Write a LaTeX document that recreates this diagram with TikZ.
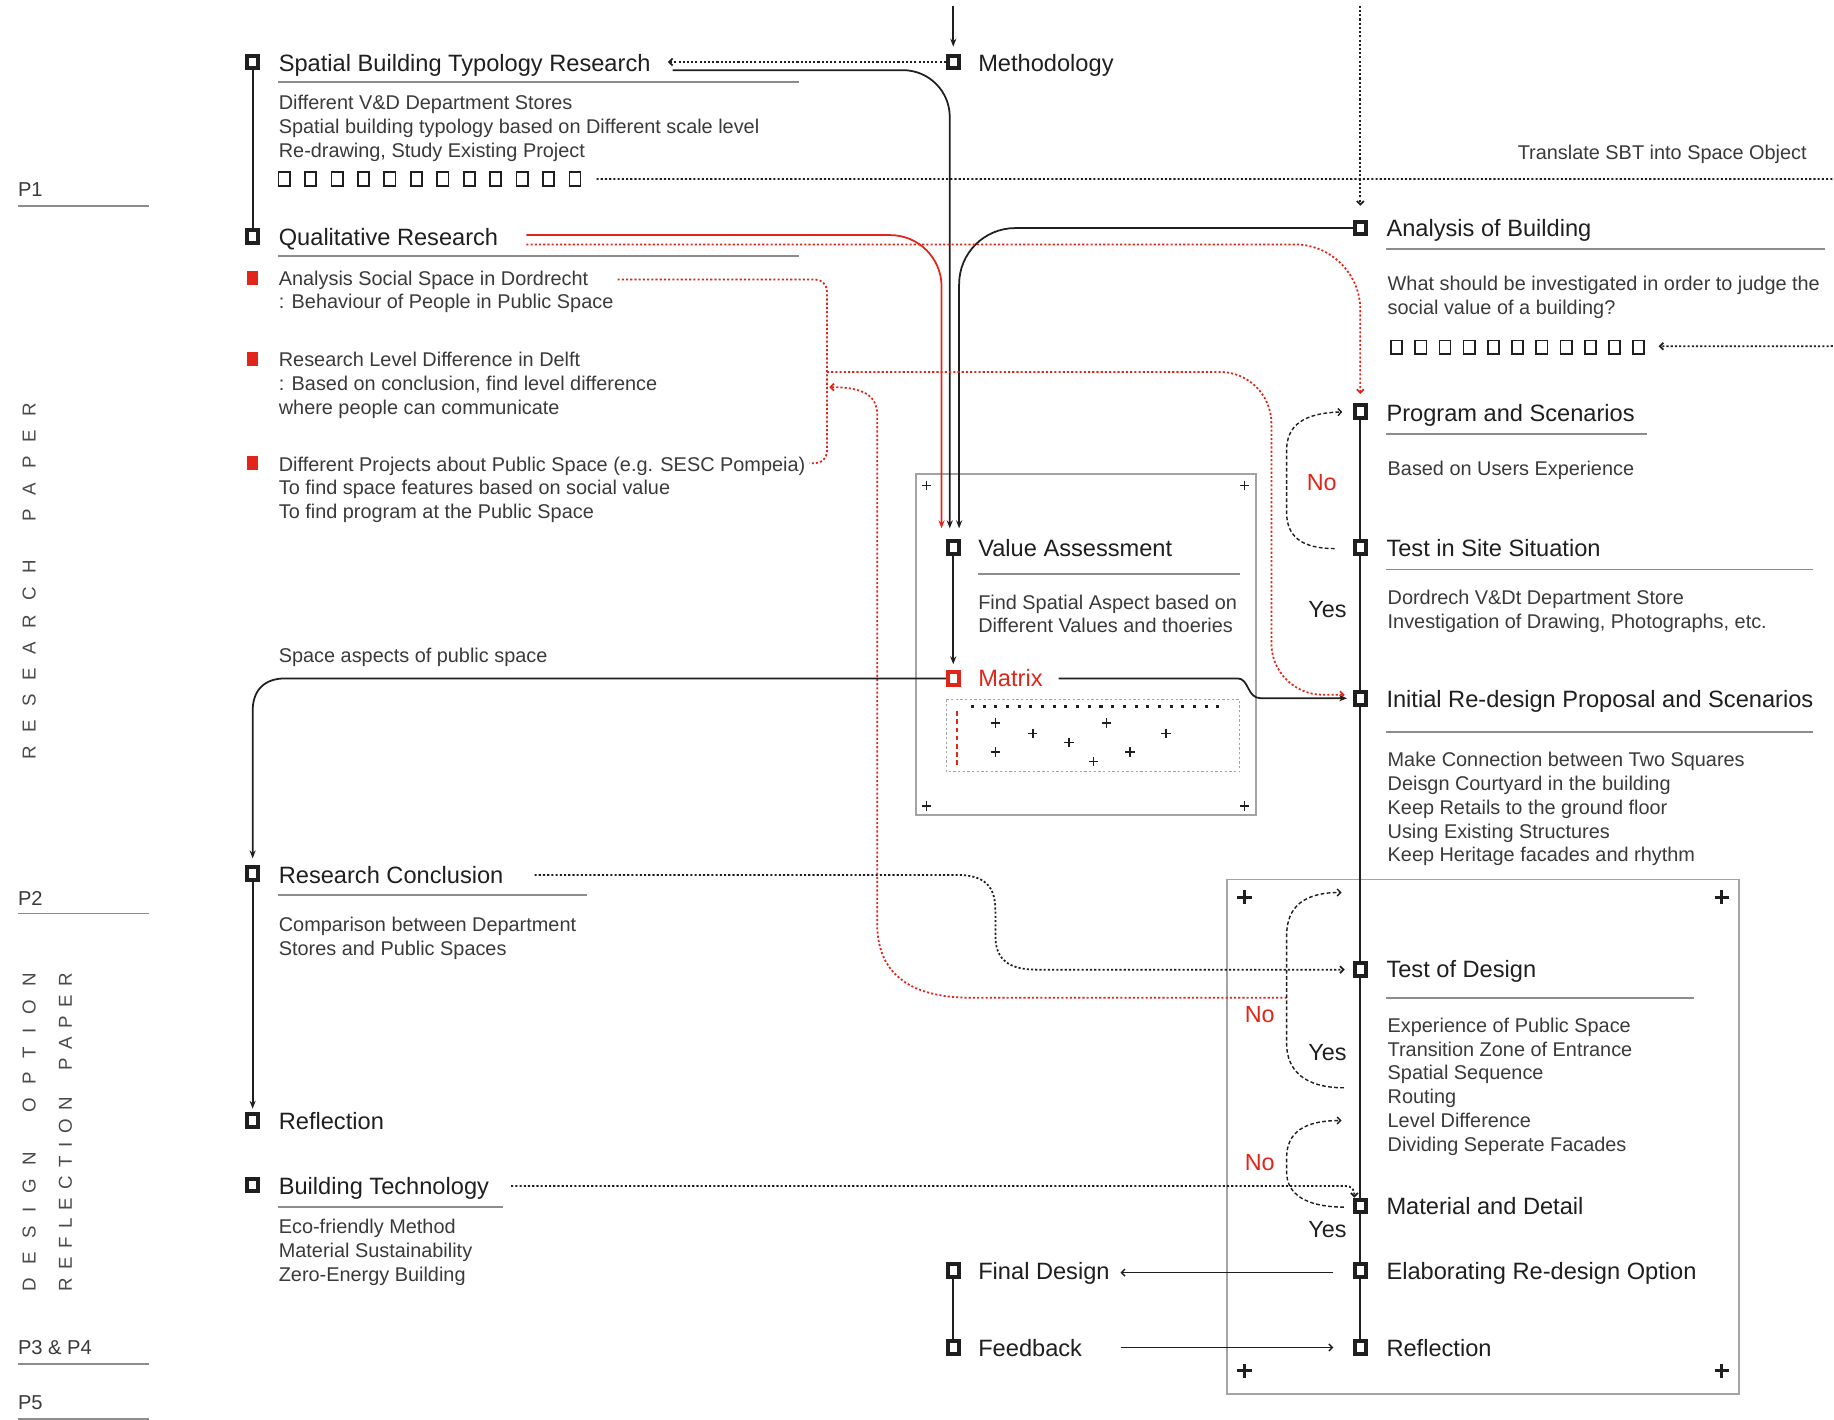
\documentclass[tikz,border=0pt]{standalone}
\usepackage{fontspec}
\setmainfont{Liberation Sans}
\usetikzlibrary{arrows.meta}
\definecolor{rd}{HTML}{E1251B}
\definecolor{tc}{HTML}{1F1F1F}
\definecolor{bc}{HTML}{3A3A3A}
\definecolor{ln}{HTML}{8C8C8C}
\definecolor{bxc}{HTML}{A3A3A3}
\definecolor{lab}{HTML}{4A4A4A}
\newcommand{\lkA}{\kern5.8pt}
\newcommand{\wkA}{\kern16.8pt}
\newcommand{\lkB}{\kern3.6pt}
\newcommand{\wkB}{\kern11.6pt}
\begin{document}
\begin{tikzpicture}[x=0.5pt,y=-0.5pt,
  mk/.style={rectangle, draw=tc, fill=white, line width=1.7pt, minimum width=4.6pt, minimum height=5.4pt, inner sep=0pt},
  mkr/.style={mk, draw=rd},
  bul/.style={rectangle, fill=rd, minimum width=5pt, minimum height=6pt, inner sep=0pt},
  sq/.style={rectangle, draw=tc, line width=0.75pt, minimum width=4.8pt, minimum height=5.8pt, inner sep=0pt},
  ttl/.style={font=\fontsize{10.1}{12}\selectfont, text=tc, anchor=base west, inner sep=0pt},
  bd/.style={font=\fontsize{8.5}{10.15}\selectfont, text=bc, anchor=north west, inner sep=0pt, align=left},
  plab/.style={font=\fontsize{8.6}{10}\selectfont, text=bc, anchor=base west, inner sep=0pt},
  vlab/.style={font=\fontsize{8}{9}\selectfont, text=lab, inner sep=0pt},
  yn/.style={font=\fontsize{10}{12}\selectfont, text=tc, inner sep=0pt},
  ul/.style={draw=ln, line width=0.7pt},
  bxs/.style={draw=bxc, line width=0.75pt},
  sol/.style={draw=tc, line width=0.75pt},
  rsol/.style={draw=rd, line width=0.75pt},
  dotl/.style={draw=tc, line width=0.75pt, dash pattern=on 0.9pt off 0.9pt},
  rdot/.style={draw=rd, line width=0.75pt, dash pattern=on 0.9pt off 0.9pt},
  dsh/.style={draw=tc, line width=0.6pt, dash pattern=on 1.6pt off 1pt},
  arr/.style={-{Stealth[length=3.4pt,width=2.6pt]}},
  barb/.style={-{Straight Barb[length=1.5pt,width=3pt]}},
  crs/.pic={\draw[line width=0.6pt, tc] (-4,0) -- (4,0) (0,-4) -- (0,4);},
  crsb/.pic={\draw[line width=1.2pt, tc] (-6,0) -- (6,0) (0,-6) -- (0,6);}
]
\useasboundingbox (0,0) rectangle (1568,1214);
\fill[white] (0,0) rectangle (1568,1214);

% ---------- boxes ----------
\draw[bxs] (783,405) rectangle (1074,697);
\draw[bxs] (1049,752) rectangle (1487,1192);
\foreach \p in {(792,415),(1064,415),(792,689),(1064,689)} \pic at \p {crs};
\foreach \p in {(1064,767),(1472,767),(1064,1172),(1472,1172)} \pic at \p {crsb};
% matrix detail
\draw[draw=bxc, dash pattern=on 1pt off 1pt, line width=0.45pt] (809,598) rectangle (1060,660);
\draw[draw=tc, line width=1.5pt, dash pattern=on 1.3pt off 3.7pt] (830,604) -- (1042,604);
\draw[draw=rd, line width=1pt, dash pattern=on 2pt off 1.5pt] (818,608) -- (818,655);
\foreach \p in {(851,618),(883,627),(914,635),(946,618),(997,627),(851,643),(935,651),(966,643)} \pic at \p {crs};

% ---------- left labels ----------
\node[plab] (p1) at (15,168) {P1};
\draw[ul] (15,176) -- (127,176);
\node[plab] (p2) at (15,774) {P2};
\draw[ul] (15,781) -- (127,781);
\node[plab] (p34) at (15,1158) {P3 \& P4};
\draw[ul] (15,1166) -- (127,1166);
\node[plab] (p5) at (15,1205) {P5};
\draw[ul] (15,1213) -- (127,1213);
\node[vlab, rotate=90] (vrp) at (25,497) {R\lkA E\lkA S\lkA E\lkA A\lkA R\lkA C\lkA H\wkA P\lkA A\lkA P\lkA E\lkA R};
\node[vlab, rotate=90] (vdo) at (25,968) {D\lkA E\lkA S\lkA I\lkA G\lkA N\wkA O\lkA P\lkA T\lkA I\lkA O\lkA N};
\node[vlab, rotate=90] (vrf) at (56,968) {R\lkB E\lkB F\lkB L\lkB E\lkB C\lkB T\lkB I\lkB O\lkB N\wkB P\lkB A\lkB P\lkB E\lkB R};

% ---------- left column ----------
\node[mk] (sbtr) at (216,53) {};
\node[ttl] (sbtrT) at (238,61) {Spatial Building Typology Research};
\draw[ul] (238,70) -- (683,70);
\node[bd] (sbtrB) at (238,81) {Different V\&D Department Stores\\Spatial building typology based on Different scale level\\Re-drawing, Study Existing Project};
\foreach \i in {0,...,11} \node[sq] (sa\i) at (243+22.6*\i,153) {};

\node[mk] (qual) at (216,202) {};
\node[ttl] (qualT) at (238,210) {Qualitative Research};
\draw[ul] (238,219) -- (683,219);
\node[bul] (bu1) at (216,238) {};
\node[bd] (q1) at (238,231) {Analysis Social Space in Dordrecht\\: Behaviour of People in Public Space};
\node[bul] (bu2) at (216,307) {};
\node[bd] (q2) at (238,301) {Research Level Difference in Delft\\: Based on conclusion, find level difference\\where people can communicate};
\node[bul] (bu3) at (216,396) {};
\node[bd] (q3) at (238,390) {Different Projects about Public Space (e.g. SESC Pompeia)\\To find space features based on social value\\To find program at the Public Space};
\node[bd] (spa) at (238,554) {Space aspects of public space};

\node[mk] (rc) at (216,747) {};
\node[ttl] (rcT) at (238,755) {Research Conclusion};
\draw[ul] (238,765) -- (502,765);
\node[bd] (rcB) at (238,784) {Comparison between Department\\Stores and Public Spaces};
\node[mk] (refl) at (216,958) {};
\node[ttl] (reflT) at (238,966) {Reflection};
\node[mk] (bt) at (216,1013) {};
\node[ttl] (btT) at (238,1021) {Building Technology};
\draw[ul] (238,1032) -- (430,1032);
\node[bd] (btB) at (238,1042) {Eco-friendly Method\\Material Sustainability\\Zero-Energy Building};

% ---------- middle column ----------
\node[mk] (meth) at (815,53) {};
\node[ttl] (methT) at (836,61) {Methodology};
\node[mk] (va) at (815,468) {};
\node[ttl] (vaT) at (836,476) {Value Assessment};
\draw[ul] (836,491) -- (1060,491);
\node[bd] (vaB) at (836,508) {Find Spatial Aspect based on\\Different Values and thoeries};
\node[mkr] (mat) at (815,580) {};
\node[ttl, text=rd] (matT) at (836,587) {Matrix};
\node[mk] (fd) at (815,1086) {};
\node[ttl] (fdT) at (836,1094) {Final Design};
\node[mk] (fb) at (815,1152) {};
\node[ttl] (fbT) at (836,1160) {Feedback};

% ---------- right column ----------
\node[mk] (aob) at (1163,195) {};
\node[ttl] (aobT) at (1185,202) {Analysis of Building};
\draw[ul] (1185,213) -- (1560,213);
\node[bd] (aobB) at (1186,236) {What should be investigated in order to judge the\\social value of a building?};
\foreach \i in {0,...,10} \node[sq] (sb\i) at (1194+20.7*\i,297) {};
\node[bd, anchor=north east] (trn) at (1545,124) {Translate SBT into Space Object};
\node[mk] (prog) at (1163,352) {};
\node[ttl] (progT) at (1185,360) {Program and Scenarios};
\draw[ul] (1185,371) -- (1408,371);
\node[bd] (progB) at (1186,394) {Based on Users Experience};
\node[mk] (tis) at (1163,468) {};
\node[ttl] (tisT) at (1185,476) {Test in Site Situation};
\draw[ul] (1185,487) -- (1550,487);
\node[bd] (tisB) at (1186,504) {Dordrech V\&Dt Department Store\\Investigation of Drawing, Photographs, etc.};
\node[mk] (init) at (1163,597) {};
\node[ttl] (initT) at (1185,605) {Initial Re-design Proposal and Scenarios};
\draw[ul] (1185,626) -- (1550,626);
\node[bd] (initB) at (1186,643) {Make Connection between Two Squares\\Deisgn Courtyard in the building\\Keep Retails to the ground floor\\Using Existing Structures\\Keep Heritage facades and rhythm};
\node[mk] (tod) at (1163,829) {};
\node[ttl] (todT) at (1185,836) {Test of Design};
\draw[ul] (1185,853) -- (1448,853);
\node[bd] (todB) at (1186,870) {Experience of Public Space\\Transition Zone of Entrance\\Spatial Sequence\\Routing\\Level Difference\\Dividing Seperate Facades};
\node[mk] (mad) at (1163,1031) {};
\node[ttl] (madT) at (1185,1038) {Material and Detail};
\node[mk] (elab) at (1163,1086) {};
\node[ttl] (elabT) at (1185,1094) {Elaborating Re-design Option};
\node[mk] (refr) at (1163,1152) {};
\node[ttl] (refrT) at (1185,1160) {Reflection};

\node[yn, text=rd] (no1) at (1130,413) {No};
\node[yn] (yes1) at (1135,521) {Yes};
\node[yn, text=rd] (no2) at (1077,867) {No};
\node[yn] (yes2) at (1135,900) {Yes};
\node[yn, text=rd] (no3) at (1077,994) {No};
\node[yn] (yes3) at (1135,1051) {Yes};

% ---------- connectors ----------
\coordinate (topM) at (815,5);
\draw[sol, arr, shorten >=3pt] (topM) -- (meth.north);
\coordinate (topA) at (1163,5);
\draw[dotl, barb, shorten >=6pt] (topA) -- (aob.north);

\coordinate (sbtrIn) at (571,53);
\draw[dotl, barb] (meth.west) -- (sbtrIn);
\coordinate (sbtrOut) at (575,60);
\draw[sol, arr, rounded corners=20pt, shorten >=4.6pt] (sbtrOut) -| ([xshift=-1.5pt]va.north);
\coordinate (qrS) at (450,201);
\draw[rsol, arr, rounded corners=22pt, shorten >=4.6pt] (qrS) -| ([xshift=-5pt]va.north);
\draw[sol, arr, rounded corners=24pt, shorten >=4.6pt] (aob.west) -| ([xshift=2.5pt]va.north);
\coordinate (qrD) at (450,209);
\draw[rdot, barb, rounded corners=28pt, shorten >=4pt] (qrD) -| (prog.north);

\coordinate (brA) at (528,239);
\coordinate (brC) at (692,396);
\draw[rdot, rounded corners=5pt] (brA) -- (707,239) -- (707,396) -- (brC);
\coordinate (brM) at (707,318);
\draw[rdot, barb, rounded corners=22pt, shorten >=3.5pt] (brM) -- (1087,318) |- ([yshift=1.5pt]init.west);
\coordinate (tdNo) at (1100,853);
\coordinate (brIn) at (709,331);
\draw[rdot, barb] (tdNo) -- (830,853) .. controls (775,853) and (750,830) .. (750,790) -- (750,355) .. controls (750,338) and (738,331) .. (brIn);

\coordinate (rcS) at (457,748);
\draw[dotl, barb, shorten >=3.5pt] (rcS) -- (818,748) .. controls (842,748) and (851,758) .. (851,778) -- (851,800) .. controls (851,820) and (862,829) .. (886,829) -- (tod.west);

\draw[sol, arr, shorten >=3pt] (mat.west) -- (244,580) .. controls (226,580) and (216,590) .. (216,608) -- (rc.north);
\coordinate (matOut) at (905,580);
\draw[sol, arr, shorten >=2.5pt] (matOut) -- (1058,580) .. controls (1068,580) and (1066,597) .. (1078,597) -- (init.west);

\coordinate (tisL) at (1141,469);
\draw[dsh, barb, shorten >=4.5pt] (tisL) .. controls (1112,469) and (1100,458) .. (1100,438) -- (1100,385) .. controls (1100,364) and (1114,353) .. (prog.west);
\coordinate (tdLs) at (1149,930);
\coordinate (tdLe) at (1147,763);
\draw[dsh, barb] (tdLs) .. controls (1115,930) and (1100,915) .. (1100,892) -- (1100,800) .. controls (1100,775) and (1115,763) .. (tdLe);
\coordinate (madLs) at (1149,1032);
\coordinate (madLe) at (1147,958);
\draw[dsh, barb] (madLs) .. controls (1115,1032) and (1100,1020) .. (1100,1002) -- (1100,990) .. controls (1100,968) and (1115,958) .. (madLe);

\coordinate (btS) at (437,1014);
\draw[dotl, barb] (btS) -- (1150,1014) .. controls (1156,1014) and (1158,1017) .. (1158,1024);

\coordinate (elabO) at (1140,1088);
\coordinate (fdIn) at (958,1088);
\draw[sol, line width=0.6pt, barb] (elabO) -- (fdIn);
\coordinate (fbO) at (958,1152);
\coordinate (refIn) at (1140,1152);
\draw[sol, line width=0.6pt, barb] (fbO) -- (refIn);

\draw[sol] (sbtr) -- (qual);
\draw[sol, arr, shorten >=1.5pt] (rc) -- (refl);
\draw[sol, arr, shorten >=2.5pt] (va) -- (mat);
\draw[sol] (fd) -- (fb);
\draw[sol] (prog) -- (tis) -- (init) -- (tod) -- (mad) -- (elab) -- (refr);

\begin{scope}
\clip (0,0) rectangle (1568,1214);
\coordinate (saOut) at (510,153);
\coordinate (sbIn) at (1418,296);
\draw[dotl, barb, rounded corners=6pt] (saOut) -- (1577,153) -- (1577,296) -- (sbIn);
\end{scope}
\end{tikzpicture}
\end{document}
